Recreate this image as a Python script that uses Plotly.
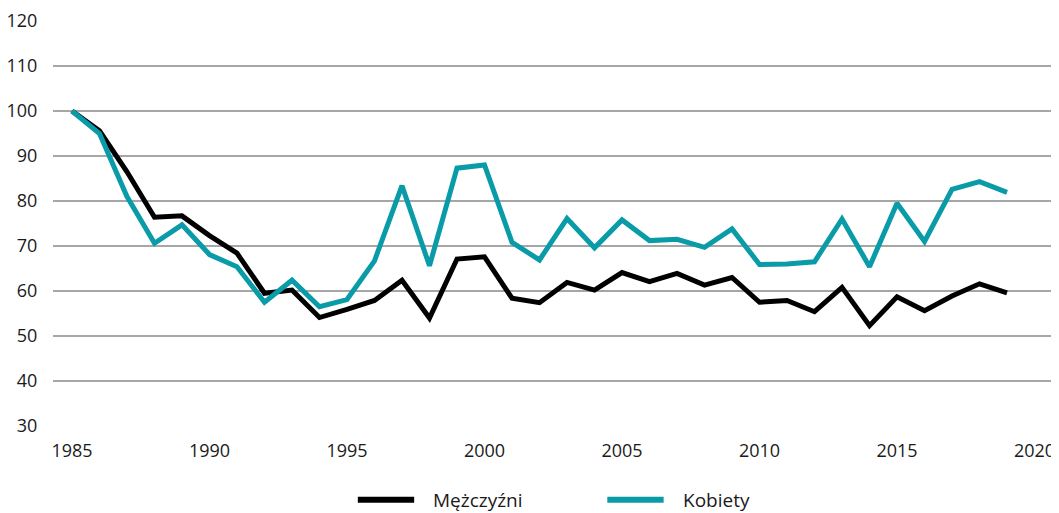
import plotly.graph_objects as go

years = list(range(1985, 2020))

# index, 1985 = 100
mezczyzni = [100, 95.6, 86.5, 76.4, 76.7, 72.3, 68.4, 59.5, 60.2, 54.1,
             55.9, 57.9, 62.4, 54.0, 67.1, 67.6, 58.4, 57.4, 61.9, 60.2,
             64.1, 62.1, 63.9, 61.3, 63.0, 57.5, 57.9, 55.4, 60.8, 52.3,
             58.7, 55.6, 58.9, 61.6, 59.6]
kobiety = [100, 95.0, 81.0, 70.6, 74.7, 68.1, 65.4, 57.5, 62.4, 56.5,
           58.1, 66.7, 83.4, 65.6, 87.3, 88.0, 70.8, 66.9, 76.1, 69.6,
           75.8, 71.2, 71.5, 69.7, 73.8, 65.9, 66.0, 66.5, 76.0, 65.4,
           79.5, 71.0, 82.6, 84.3, 81.9]

series_names = ["Mężczyźni", "Kobiety"]
series_colors = ["#000000", "#0a9ba8"]

x_ticks = [1985, 1990, 1995, 2000, 2005, 2010, 2015, 2020]
y_ticks = [30, 40, 50, 60, 70, 80, 90, 100, 110, 120]

FONT = "Open Sans"

fig = go.Figure()
for name, vals, col in zip(series_names, [mezczyzni, kobiety], series_colors):
    fig.add_trace(go.Scatter(x=years, y=vals, name=name, mode="lines",
                             line=dict(color=col, width=5)))

# legend drawn by hand so the line keys are as long as in the original
# (page has an 8px body margin, so sizes below compensate for it)
leg_x = [0.303, 0.551]  # paper x of the key start
leg_y = -0.182
for lx, name, col in zip(leg_x, series_names, series_colors):
    fig.add_shape(type="line", xref="paper", yref="paper",
                  x0=lx, x1=lx + 0.056, y0=leg_y, y1=leg_y,
                  line=dict(color=col, width=6))
    fig.add_annotation(xref="paper", yref="paper", x=lx + 0.073, y=leg_y,
                       xanchor="left", yanchor="middle", text=name,
                       showarrow=False, font=dict(size=19, color="#1a1a1a"))

fig.update_layout(
    width=1051, height=505,
    margin=dict(l=45, r=0, t=13, b=87),
    plot_bgcolor="white", paper_bgcolor="white",
    font=dict(family=FONT, size=18, color="#1a1a1a"),
    showlegend=False,
)
fig.update_xaxes(range=[1984.31, 2020.89], tickvals=x_ticks, showgrid=False,
                 zeroline=False, showline=False, ticks="outside", ticklen=8,
                 tickcolor="rgba(0,0,0,0)", automargin=False)
fig.update_yaxes(range=[30, 120], tickvals=y_ticks, showgrid=True,
                 gridcolor="#a6a6a6", gridwidth=1.5, zeroline=False,
                 showline=False, ticks="outside", ticklen=11,
                 tickcolor="rgba(0,0,0,0)", automargin=False)

fig.write_html("out.html")
